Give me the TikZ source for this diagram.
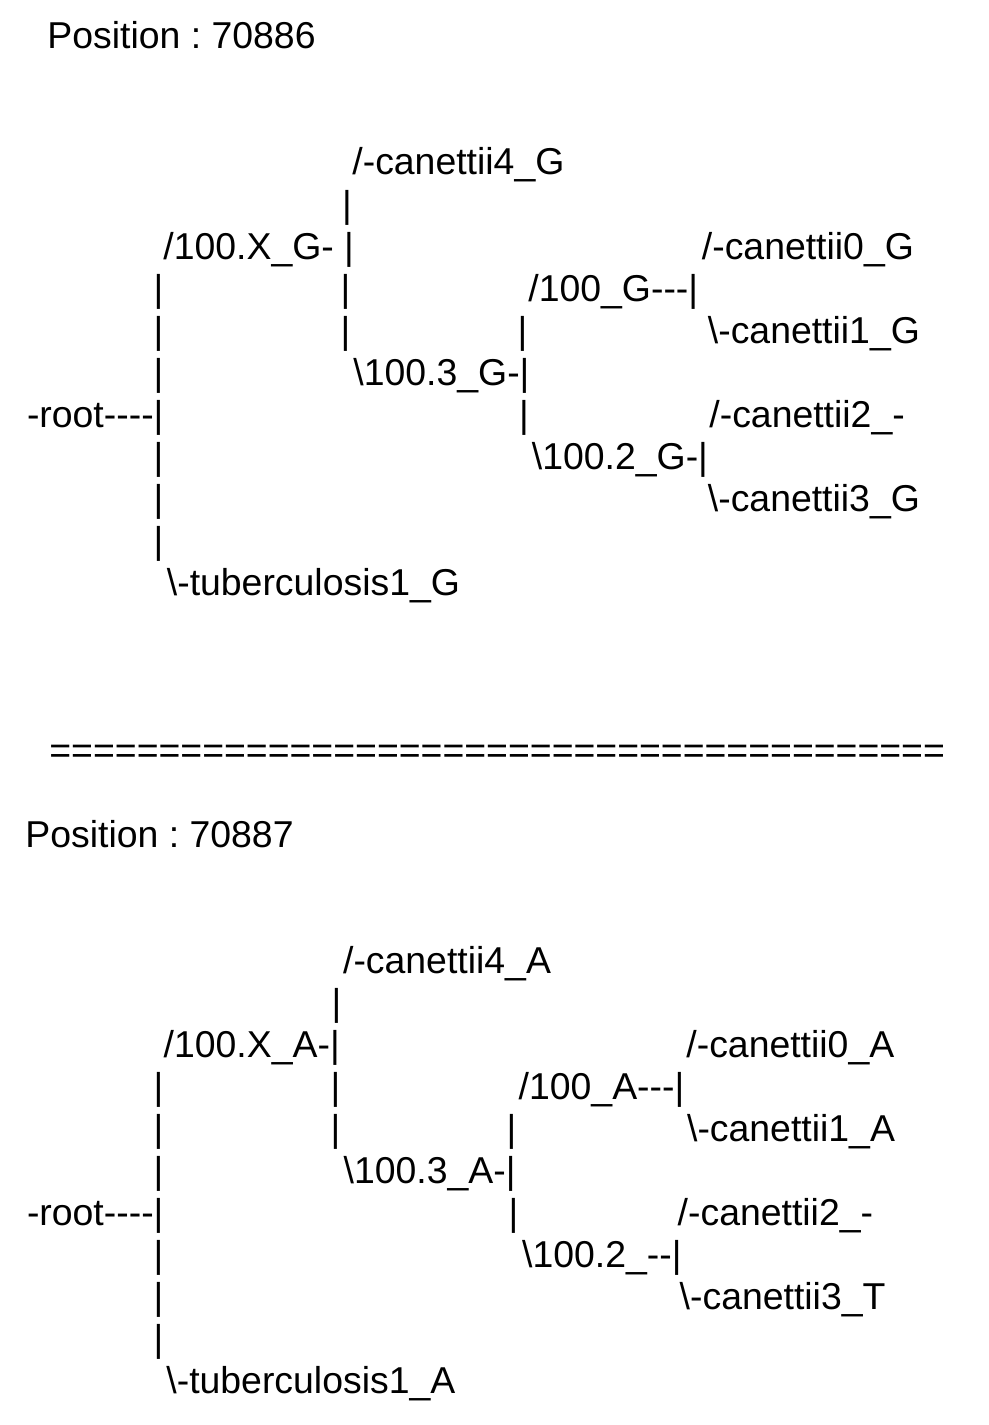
\documentclass[tikz,border=0pt]{standalone}
\usepackage{fontspec}
\newfontfamily\treefont{Liberation Sans}[Ligatures=TeXOff]
\newcommand{\bs}{\textbackslash}
\frenchspacing

\begin{document}
\begin{tikzpicture}[
  x=0.5pt, y=-21pt,
  txt/.style={anchor=base west, inner sep=0pt, font=\treefont\fontsize{18.7}{22}\selectfont},
  vbar/.style={anchor=base, inner sep=0pt, font=\treefont\fontsize{18.7}{22}\selectfont},
]
  % Page frame (one unit in y = one text line)
  \useasboundingbox (0,-1.1667) rectangle (989,32.762);

  % ---------- Position 70886 ----------
  \node[txt] (posA) at (47,0) {Position : 70886};

  \node[txt] (c4G) at (352,3) {/-canettii4\_G};
  \node[vbar] (v4G) at (347,4) {|};
  \node[txt] (nXG) at (163,5) {/100.X\_G- |};
  \node[txt] (c0G) at (701.5,5) {/-canettii0\_G};
  \node[txt] (n100G) at (528,6) {/100\_G---|};
  \node[txt] (c1G) at (707.5,7) {\bs-canettii1\_G};
  \node[txt] (n3G) at (353,8) {\bs100.3\_G-|};
  \node[txt] (rootG) at (26.6,9) {-root----|};
  \node[txt] (c2G) at (709,9) {/-canettii2\_-};
  \node[txt] (n2G) at (531.5,10) {\bs100.2\_G-|};
  \node[txt] (c3G) at (707.5,11) {\bs-canettii3\_G};
  \node[txt] (tbG) at (166.5,13) {\bs-tuberculosis1\_G};

  % vertical bars
  \foreach \k in {6,7,8,10,11,12} {
    \node[vbar] (lG\k) at (158.5,\k) {|};
  }
  \foreach \k in {6,7} {
    \node[vbar] (mG\k) at (345.5,\k) {|};
  }
  \node[vbar] (rG7) at (522.5,7) {|};
  \node[vbar] (rG9) at (524,9) {|};

  % ---------- separator ----------
  \node[txt] (sep) at (49,17) {=========================================};

  % ---------- Position 70887 ----------
  \node[txt] (posB) at (25,19) {Position : 70887};

  \node[txt] (c4A) at (342.7,22) {/-canettii4\_A};
  \node[vbar] (v4A) at (336.5,23) {|};
  \node[txt] (nXA) at (163.3,24) {/100.X\_A-|};
  \node[txt] (c0A) at (686,24) {/-canettii0\_A};
  \node[txt] (n100A) at (518.3,25) {/100\_A---|};
  \node[txt] (c1A) at (686.7,26) {\bs-canettii1\_A};
  \node[txt] (n3A) at (343.3,27) {\bs100.3\_A-|};
  \node[txt] (rootA) at (26.6,28) {-root----|};
  \node[txt] (c2A) at (677.3,28) {/-canettii2\_-};
  \node[txt] (n2A) at (521.7,29) {\bs100.2\_--|};
  \node[txt] (c3A) at (679.3,30) {\bs-canettii3\_T};
  \node[txt] (tbA) at (166,32) {\bs-tuberculosis1\_A};

  % vertical bars
  \foreach \k in {25,26,27,29,30,31} {
    \node[vbar] (lA\k) at (158.5,\k) {|};
  }
  \foreach \k in {25,26} {
    \node[vbar] (mA\k) at (335.5,\k) {|};
  }
  \node[vbar] (rA26) at (511.5,26) {|};
  \node[vbar] (rA28) at (513.5,28) {|};

\end{tikzpicture}
\end{document}
